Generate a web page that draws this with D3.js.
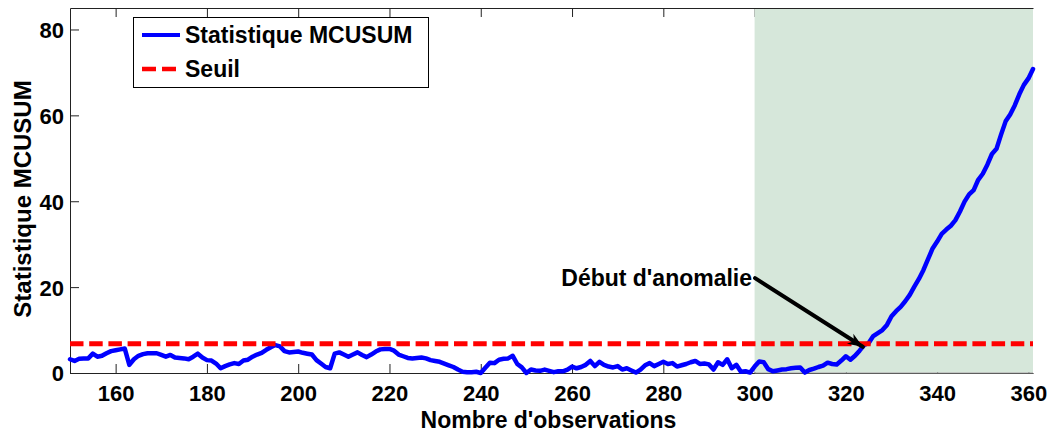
<!DOCTYPE html>
<html><head><meta charset="utf-8">
<script src="https://cdn.jsdelivr.net/npm/d3@7"></script>
<style>
html,body{margin:0;padding:0;background:#fff;}
svg text{font-family:"Liberation Sans",Arial,sans-serif;font-weight:bold;fill:#000;}
</style></head>
<body><svg id="c" width="1053" height="432"></svg>
<script>
const obsStart = 150;
const mcusum = [
3.2,2.8,3.3,3.4,3.4,4.5,3.8,4.0,4.6,5.1,
5.3,5.5,5.7,1.9,3.2,4.0,4.4,4.6,4.6,4.6,
4.2,3.8,4.2,3.6,3.5,3.4,3.2,3.8,4.5,3.6,
3.0,2.9,2.2,1.1,1.6,2.0,2.3,2.1,2.9,3.1,
3.8,4.3,4.7,5.4,6.0,6.5,6.2,5.1,4.8,4.9,
5.0,4.7,4.5,4.3,3.0,2.2,1.4,1.1,4.5,4.8,
4.3,3.8,4.3,4.8,4.2,3.7,4.3,5.0,5.5,5.6,
5.6,5.2,4.3,3.9,3.5,3.4,3.5,3.6,3.4,3.0,
2.8,2.6,2.2,1.8,1.4,0.8,0.3,0.2,0.2,0.3,
0.0,1.2,2.4,2.3,3.1,3.3,3.4,4.0,2.1,1.3,
0.0,0.8,0.6,0.5,0.8,0.5,0.2,0.4,0.4,0.8,
1.5,1.1,1.4,1.9,2.8,1.6,2.6,1.9,1.5,1.3,
1.6,0.8,1.1,0.6,0.1,0.8,1.8,2.3,1.6,2.1,
2.6,2.1,2.3,1.5,1.8,2.1,2.5,2.8,2.1,2.2,
2.0,0.8,2.5,1.9,3.2,1.1,1.9,0.3,0.4,0.1,
1.5,2.7,2.5,0.9,0.4,0.6,0.8,0.9,1.1,1.2,
1.3,0.1,0.7,1.0,1.4,1.7,2.4,2.1,2.0,2.9,
3.9,3.1,4.0,5.2,6.5,7.0,8.6,9.3,10.0,11.2,
13.2,14.4,15.4,16.7,18.2,20.1,21.9,24.0,26.5,29.0,
30.6,32.4,33.4,34.3,35.6,37.6,39.9,41.6,42.6,45.0,
46.4,48.5,51.0,52.2,55.5,58.6,60.2,62.3,64.9,67.1,
68.6,70.8
];
const threshold = 6.8;
const anomalyRange = [300, 361];
const xTicks = [160,180,200,220,240,260,280,300,320,340,360];
const yTicks = [0,20,40,60,80];
const xDomain = [150, 361];
const yDomain = [0, 85];
const arrowFrom = [300.1, 22.1];
const arrowTo = [323.7, 6.1];
const annotationText = "Début d'anomalie";
const legendLabels = ["Statistique MCUSUM", "Seuil"];
const xTitle = "Nombre d'observations";
const yTitle = "Statistique MCUSUM";

const data = mcusum.map((v,i)=>({x: obsStart+i, y: v}));

const L=70, R=1033, T=8, B=373;
const svg = d3.select("#c");
const x = d3.scaleLinear().domain(xDomain).range([L,R]);
const y = d3.scaleLinear().domain(yDomain).range([B,T]);

// axes
const tickColor = "#222";
const gx = svg.append("g").attr("transform",`translate(0,${B})`)
  .call(d3.axisBottom(x).tickValues(xTicks).tickSize(-9).tickPadding(16).tickSizeOuter(0));
gx.select(".domain").attr("stroke","#222");
gx.selectAll(".tick line").attr("stroke",tickColor);
gx.selectAll("text").attr("font-size","22px").attr("font-family","Liberation Sans, Arial, sans-serif").attr("font-weight","bold").attr("dy","0").attr("y",28);

const gxt = svg.append("g").attr("transform",`translate(0,${T})`)
  .call(d3.axisTop(x).tickValues(xTicks).tickSize(-9).tickSizeOuter(0).tickFormat(""));
gxt.select(".domain").attr("stroke","#222");
gxt.selectAll(".tick line").attr("stroke",tickColor);

const gy = svg.append("g").attr("transform",`translate(${L},0)`)
  .call(d3.axisLeft(y).tickValues(yTicks).tickSize(-9).tickPadding(6).tickSizeOuter(0));
gy.select(".domain").attr("stroke","#222");
gy.selectAll(".tick line").attr("stroke",tickColor);
gy.selectAll("text").attr("font-size","22px").attr("font-family","Liberation Sans, Arial, sans-serif").attr("font-weight","bold").attr("dy","0.36em");

// anomaly shaded region
svg.append("rect")
  .attr("x", x(anomalyRange[0])).attr("width", x(anomalyRange[1])-x(anomalyRange[0]))
  .attr("y", T+1).attr("height", B-T-1.5)
  .attr("fill","#d6e7da");
svg.append("line").attr("x1",x(anomalyRange[0])).attr("x2",x(anomalyRange[1]))
  .attr("y1",B).attr("y2",B).attr("stroke","#999").attr("stroke-width",1);

// MCUSUM line
const line = d3.line().x(d=>x(d.x)).y(d=>y(d.y));
svg.append("path").datum(data).attr("d",line)
  .attr("fill","none").attr("stroke","#0000ff").attr("stroke-width",4.5)
  .attr("stroke-linejoin","round").attr("stroke-linecap","round");

// threshold
svg.append("line").attr("x1",x(xDomain[0])).attr("x2",x(xDomain[1]))
  .attr("y1",y(threshold)).attr("y2",y(threshold))
  .attr("stroke","#ff0000").attr("stroke-width",5).attr("stroke-dasharray","13.5,5.7");

// annotation arrow
const ax1=x(arrowFrom[0]), ay1=y(arrowFrom[1]), ax2=x(arrowTo[0]), ay2=y(arrowTo[1]);
svg.append("line").attr("x1",ax1).attr("y1",ay1).attr("x2",ax2).attr("y2",ay2)
  .attr("stroke","#000").attr("stroke-width",4).attr("stroke-linecap","round");
const ang = Math.atan2(ay2-ay1, ax2-ax1);
const hl = 15, hw = 6;
const bx = ax2 - hl*Math.cos(ang), by = ay2 - hl*Math.sin(ang);
const px = -Math.sin(ang), py = Math.cos(ang);
const bx2 = ax2 - hl*0.7*Math.cos(ang), by2 = ay2 - hl*0.7*Math.sin(ang);
svg.append("path")
  .attr("d",`M${ax2},${ay2} L${bx+px*hw},${by+py*hw} L${bx2},${by2} L${bx-px*hw},${by-py*hw} Z`)
  .attr("fill","#000");
svg.append("text").attr("x",ax1-3).attr("y",ay1+8).attr("text-anchor","end")
  .attr("font-size","23px").text(annotationText);

// legend
const lg = svg.append("g");
lg.append("rect").attr("x",133.5).attr("y",17.5).attr("width",295).attr("height",70)
  .attr("fill","#fff").attr("stroke","#000").attr("stroke-width",1);
const legendStyles = [
  {stroke:"#0000ff", dash:null, w:4},
  {stroke:"#ff0000", dash:"14,6", w:4.5}
];
legendLabels.forEach((lab,i)=>{
  const cy = 35 + i*34;
  lg.append("line").attr("x1",142).attr("x2",180).attr("y1",cy).attr("y2",cy)
    .attr("stroke",legendStyles[i].stroke).attr("stroke-width",legendStyles[i].w)
    .attr("stroke-dasharray",legendStyles[i].dash);
  lg.append("text").attr("x",185).attr("y",cy+8).attr("font-size","23px").text(lab);
});

// axis titles
svg.append("text").attr("x",(L+R)/2 - 3).attr("y",426).attr("text-anchor","middle")
  .attr("font-size","23px").attr("transform","translate(0,-28) scale(1,1.07)").text(xTitle);
svg.append("text").attr("transform",`translate(31,199) rotate(-90)`).attr("text-anchor","middle")
  .attr("font-size","24px").text(yTitle);
</script></body></html>
